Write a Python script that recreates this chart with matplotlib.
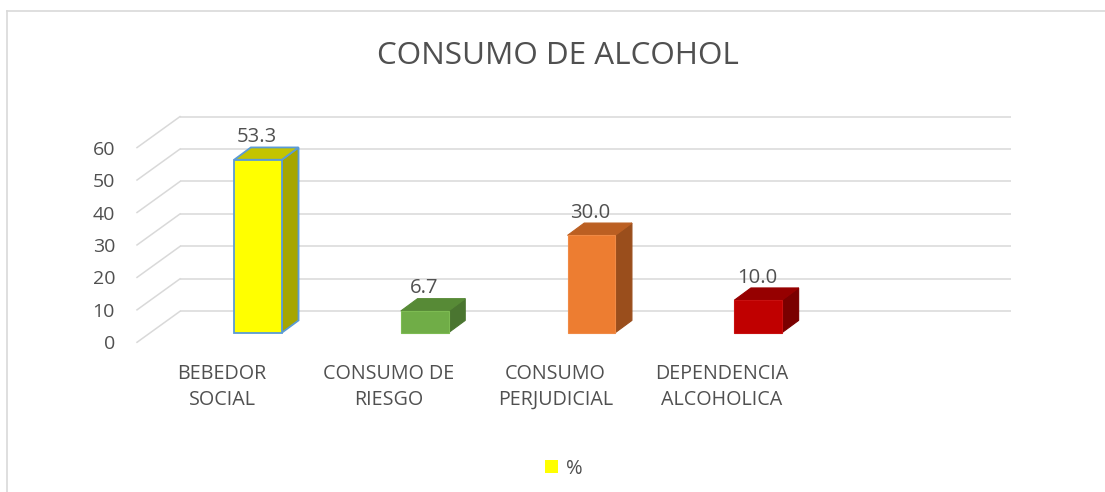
import matplotlib
matplotlib.use("Agg")
import matplotlib.pyplot as plt
from matplotlib.patches import Rectangle, Polygon, Patch
from matplotlib.lines import Line2D

# ---------------- data ----------------
categories = ["BEBEDOR\nSOCIAL", "CONSUMO DE\nRIESGO", "CONSUMO\nPERJUDICIAL", "DEPENDENCIA\nALCOHOLICA"]
values = [53.3, 6.7, 30.0, 10.0]
y_ticks = [0, 10, 20, 30, 40, 50, 60]
series_name = "%"
title = "CONSUMO DE ALCOHOL"

# ---------------- style ----------------
front_colors = ["#FFFF00", "#70AD47", "#ED7D31", "#C00000"]
top_colors = ["#C4C400", "#578A36", "#BB5F22", "#960000"]
side_colors = ["#A6A600", "#4A7530", "#9A4E1C", "#7A0000"]
edge_colors = ["#5B9BD5", "#7DBB52", "#F08A45", "#C81010"]
text_color = "#505050"
grid_color = "#D9D9D9"
FONT = "Open Sans"

W, H, DPI = 1105, 492, 100
# layout (pixel geometry of the pseudo-3D frame)
X0_PX, CAT_PX = 258.0, 166.7      # category 0 front-centre, px per category
Y0_PX, VAL_PX = 332.7, 3.245      # bar base (image y), px per value unit
BAR_HALF = 0.143                   # half bar width in category units
DEPTH_DX, DEPTH_DY = 16.7 / CAT_PX, 12.3 / VAL_PX     # bar depth offset
WALL_DY = 21.4 / VAL_PX            # back wall offset above bar plane
WALL_X0 = (180 - X0_PX) / CAT_PX
WALL_X1 = (1011 - X0_PX) / CAT_PX
DIAG_DX, DIAG_DY = 43.0 / CAT_PX, 31.0 / VAL_PX

fig = plt.figure(figsize=(W / DPI, H / DPI), dpi=DPI)
fig.patch.set_facecolor("white")
ax = fig.add_axes([0, 0, 1, 1])
ax.set_xlim((0 - X0_PX) / CAT_PX, (W - X0_PX) / CAT_PX)
ax.set_ylim((Y0_PX - H) / VAL_PX, Y0_PX / VAL_PX)
ax.axis("off")

# back wall gridlines + left wall diagonals
for t in y_ticks:
    yb = t + WALL_DY
    ax.plot([WALL_X0, WALL_X1], [yb, yb], color=grid_color, lw=1.1, zorder=1,
            solid_capstyle="butt")
    ax.plot([WALL_X0 - DIAG_DX, WALL_X0], [yb - DIAG_DY, yb], color=grid_color,
            lw=1.1, zorder=1)
    ax.text((115 - X0_PX) / CAT_PX, yb - DIAG_DY, str(t), ha="right",
            va="center_baseline", fontsize=14.0, color=text_color, family=FONT)

# bars
for i, v in enumerate(values):
    x0, x1 = i - BAR_HALF, i + BAR_HALF
    ec = edge_colors[i]
    lw = 1.3 if i == 0 else 0.8
    side = Polygon([(x1, 0), (x1 + DEPTH_DX, DEPTH_DY), (x1 + DEPTH_DX, v + DEPTH_DY), (x1, v)],
                   closed=True, facecolor=side_colors[i], edgecolor=ec if i == 0 else side_colors[i],
                   lw=lw, zorder=3)
    top = Polygon([(x0, v), (x1, v), (x1 + DEPTH_DX, v + DEPTH_DY), (x0 + DEPTH_DX, v + DEPTH_DY)],
                  closed=True, facecolor=top_colors[i], edgecolor=ec if i == 0 else top_colors[i],
                  lw=lw, zorder=3)
    front = Rectangle((x0, 0), x1 - x0, v, facecolor=front_colors[i], edgecolor=ec,
                      lw=lw, zorder=4)
    ax.add_patch(side)
    ax.add_patch(top)
    ax.add_patch(front)
    ax.text(i - 0.005, v + 25.0 / VAL_PX, f"{v:.1f}", ha="center", va="center_baseline",
            fontsize=14.6, color=text_color, family=FONT, zorder=5)
    ax.text(i - 36.0 / CAT_PX, (Y0_PX - 364) / VAL_PX, categories[i], ha="center", va="top",
            fontsize=14.2, color=text_color, family=FONT, linespacing=1.38, zorder=5)

# title
fig.text(558 / W, 1 - 63.5 / H, title, ha="center", va="baseline", fontsize=22.6,
         color=text_color, family=FONT)

# legend
leg = fig.legend(handles=[Patch(facecolor=front_colors[0], edgecolor="none", label=series_name)],
                 loc="center", bbox_to_anchor=(564 / W, 1 - 468.5 / H), frameon=False,
                 handlelength=0.62, handleheight=0.62, handletextpad=0.4,
                 prop={"family": FONT, "size": 14.5})
for t in leg.get_texts():
    t.set_color(text_color)

# chart border (left & top visible)
fig.add_artist(Line2D([6.5 / W, 6.5 / W], [0, 1 - 11 / H], color=grid_color, lw=1.2))
fig.add_artist(Line2D([6.5 / W, 1], [1 - 11 / H, 1 - 11 / H], color=grid_color, lw=1.2))

fig.savefig("out.png", dpi=DPI, facecolor="white")
